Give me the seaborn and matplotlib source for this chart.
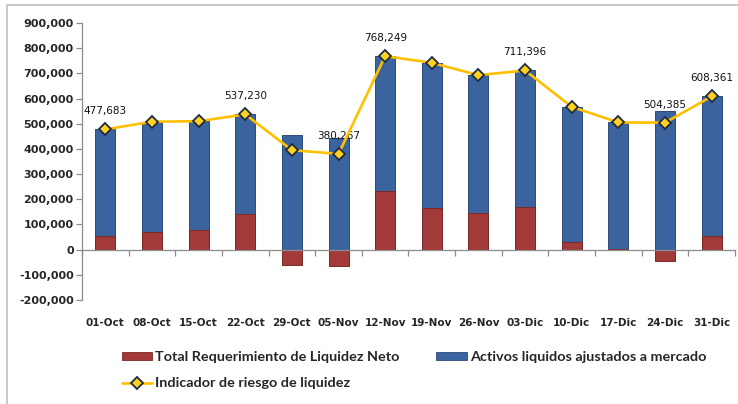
import numpy as np
import pandas as pd
import seaborn as sns
import matplotlib
matplotlib.use("Agg")
import matplotlib.pyplot as plt
from matplotlib.lines import Line2D
from matplotlib.patches import Patch, Rectangle
from matplotlib.ticker import FuncFormatter, MultipleLocator, FixedLocator

fechas = ['01-Oct', '08-Oct', '15-Oct', '22-Oct', '29-Oct', '05-Nov', '12-Nov',
          '19-Nov', '26-Nov', '03-Dic', '10-Dic', '17-Dic', '24-Dic', '31-Dic']
requerimiento = [55000, 72000, 76000, 142000, -60000, -65000, 231000,
                 165000, 146000, 168000, 30000, 3000, -45000, 56000]
activos = [422683, 436000, 434000, 395230, 455000, 445267, 537249,
           577000, 547000, 543396, 537000, 502000, 549385, 552361]
indicador = [477683, 508000, 510000, 537230, 395000, 380267, 768249,
             742000, 693000, 711396, 567000, 505000, 504385, 608361]
etiquetas = [0, 3, 5, 6, 9, 12, 13]

sns.set_theme(style='white')
plt.rcParams['font.family'] = ['DejaVu Sans']

W, H = 738, 404
fig = plt.figure(figsize=(W / 100, H / 100), dpi=100)
ax = fig.add_axes([82 / W, 1 - 300 / H, (735 - 82) / W, (300 - 23) / H])

df = pd.DataFrame({'fecha': fechas, 'req': requerimiento, 'act': activos, 'ind': indicador})
df['act_top'] = df['act'] + df['req'].clip(lower=0)

sns.barplot(data=df, x='fecha', y='act_top', color='#3B649E', width=0.43, ax=ax,
            saturation=1, edgecolor='#2B4A78', linewidth=0.7)
sns.barplot(data=df, x='fecha', y='req', color='#A33A3A', width=0.43, ax=ax,
            saturation=1, edgecolor='#7A2828', linewidth=0.7)
sns.lineplot(x=np.arange(len(fechas)), y=df['ind'].values, sort=False, color='#FFC000',
             linewidth=1.9, marker='D', markersize=6, markerfacecolor='#FFD21F',
             markeredgecolor='#1F2A44', markeredgewidth=1.3, ax=ax, zorder=5)

for i in etiquetas:
    ax.annotate(f"{indicador[i]:,}", (i, indicador[i]), xytext=(0, 13),
                textcoords='offset points', ha='center', va='center',
                fontsize=7.5, color='#111111')

ax.set_xlim(-0.5, len(fechas) - 0.5)
ax.set_ylim(-200000, 900000)
ax.yaxis.set_major_locator(MultipleLocator(100000))
ax.yaxis.set_major_formatter(FuncFormatter(lambda v, p: f"{v:,.0f}"))
ax.set_xlabel('')
ax.set_ylabel('')

for s in ['top', 'right']:
    ax.spines[s].set_visible(False)
ax.spines['left'].set_color('#8C8C8C')
ax.spines['left'].set_linewidth(0.9)
ax.spines['bottom'].set_position(('data', 0))
ax.spines['bottom'].set_color('#8C8C8C')
ax.spines['bottom'].set_linewidth(0.9)

ax.tick_params(axis='y', which='major', left=True, length=4, width=0.9, color='#8C8C8C',
               labelsize=8, pad=2)
for t in ax.get_yticklabels():
    t.set_fontweight('bold')
ax.xaxis.set_minor_locator(FixedLocator(np.arange(-0.5, len(fechas), 1.0)))
ax.tick_params(axis='x', which='minor', bottom=True, length=4, width=0.9, color='#8C8C8C')
ax.tick_params(axis='x', which='major', bottom=False, length=0, labelsize=7.5, pad=49)
for t in ax.get_xticklabels():
    t.set_fontweight('bold')

handles = [Patch(facecolor='#A33A3A', edgecolor='#7A2828', linewidth=0.6),
           Line2D([0], [0], color='#FFC000', linewidth=1.9, marker='D', markersize=6,
                  markerfacecolor='#FFD21F', markeredgecolor='#1F2A44', markeredgewidth=1.3),
           Patch(facecolor='#3B649E', edgecolor='#2B4A78', linewidth=0.6)]
labels = ['Total Requerimiento de Liquidez Neto', 'Indicador de riesgo de liquidez',
          'Activos liquidos ajustados a mercado']
fig.legend(handles, labels, loc='upper left', bbox_to_anchor=(122 / W, 1 - 351 / H),
           ncol=2, frameon=False, borderpad=0, borderaxespad=0, handlelength=2.1,
           handleheight=0.5, handletextpad=0.2, columnspacing=2.55, labelspacing=1.0,
           prop={'family': ['Lato', 'DejaVu Sans'], 'weight': 'bold', 'size': 10.4})

fig.patches.append(Rectangle((7 / W, -0.2), 1.2, 1.2 - 5 / H, transform=fig.transFigure,
                             fill=False, edgecolor='#BFBFBF', linewidth=1.2))

fig.savefig('out.png', dpi=100)
